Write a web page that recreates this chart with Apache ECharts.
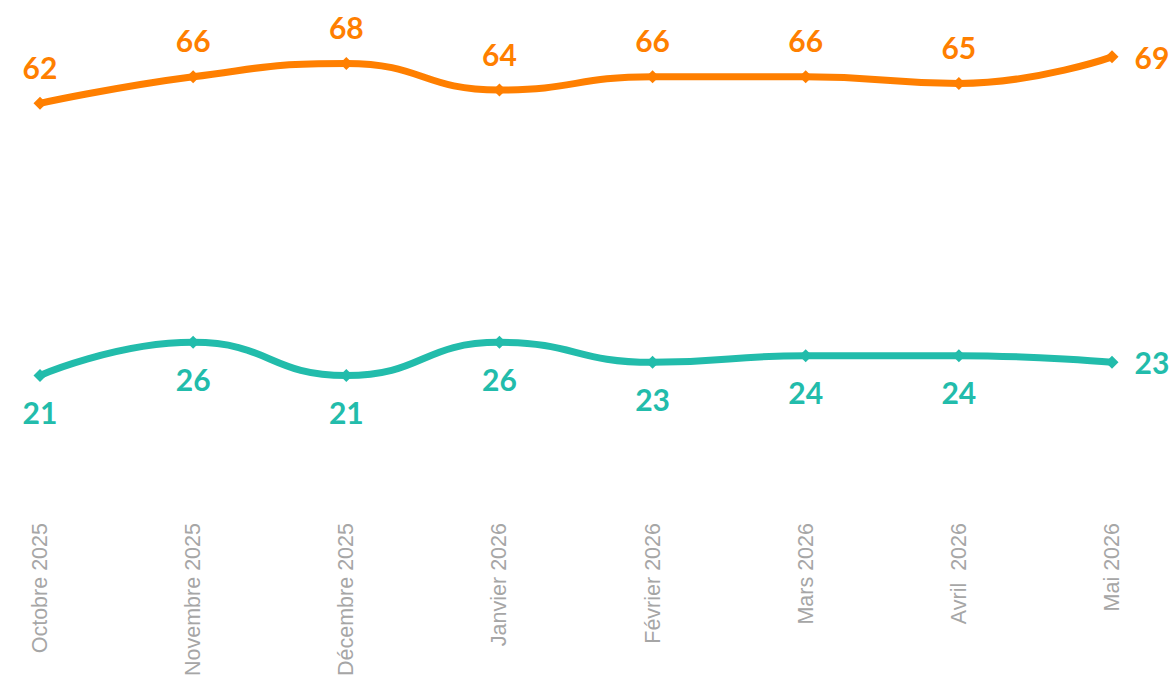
<!DOCTYPE html>
<html>
<head>
<meta charset="utf-8">
<script src="https://cdn.jsdelivr.net/npm/echarts@6/dist/echarts.min.js"></script>
<style>
  html, body { margin: 0; padding: 0; background: #fff; }
  #chart { width: 1169px; height: 679px; }
</style>
</head>
<body>
<div id="chart"></div>
<script>
var months = ['Octobre 2025', 'Novembre 2025', 'Décembre 2025', 'Janvier 2026', 'Février 2026', 'Mars 2026', 'Avril  2026', 'Mai 2026'];
var orangeValues = [62, 66, 68, 64, 66, 66, 65, 69];
var tealValues = [21, 26, 21, 26, 23, 24, 24, 23];

(function() {
  var orange = '#FF7F00';
  var teal = '#22BCAB';
  var labelFont = { fontFamily: 'Lato', fontWeight: 'bold', fontSize: 30 };

  // last point gets its label on the right, the rest above / below
  function points(values, pos) {
    return values.map(function(v, i) {
      var last = i === values.length - 1;
      return {
        value: v,
        label: { position: last ? 'right' : pos, distance: last ? 16 : 15 }
      };
    });
  }

  var chart = echarts.init(document.getElementById('chart'), null, { renderer: 'svg' });
  chart.setOption({
    animation: false,
    grid: { left: 40, right: 57, top: 17, bottom: 159, containLabel: false },
    xAxis: {
      type: 'category',
      data: months,
      boundaryGap: false,
      axisLine: { show: false },
      axisTick: { show: false },
      axisLabel: {
        rotate: 90,
        margin: 8,
        color: '#A6A6A6',
        fontSize: 21.5,
        fontFamily: 'Liberation Sans'
      }
    },
    yAxis: {
      type: 'value',
      min: 0,
      max: 75,
      show: false,
      splitLine: { show: false }
    },
    series: [{
      type: 'line',
      data: points(orangeValues, 'top'),
      smooth: 0.5,
      symbol: 'diamond',
      symbolSize: 13,
      lineStyle: { color: orange, width: 7 },
      itemStyle: { color: orange },
      label: Object.assign({ show: true, color: orange }, labelFont)
    }, {
      type: 'line',
      data: points(tealValues, 'bottom'),
      smooth: 0.5,
      symbol: 'diamond',
      symbolSize: 13,
      lineStyle: { color: teal, width: 7 },
      itemStyle: { color: teal },
      label: Object.assign({ show: true, color: teal }, labelFont)
    }]
  });
})();
</script>
</body>
</html>
